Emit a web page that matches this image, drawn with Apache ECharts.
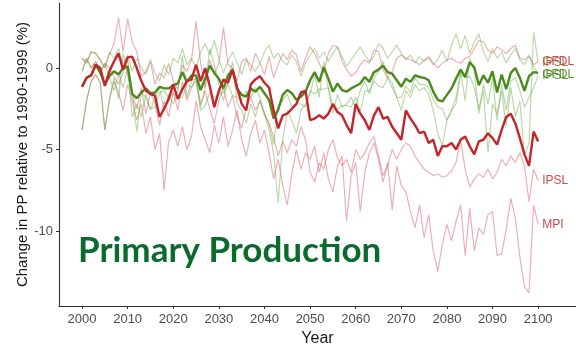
<!DOCTYPE html>
<html>
<head>
<meta charset="utf-8">
<script src="https://cdn.jsdelivr.net/npm/echarts@6/dist/echarts.min.js"></script>
<style>
  html, body { margin: 0; padding: 0; background: #fff; }
  #chart { width: 576px; height: 344px; }
</style>
</head>
<body>
<div id="chart"></div>
<script>
// Annual change in primary production (% vs 1990-1999), 2000-2100.
const START_YEAR = 2000;
const X_TICKS = [2000, 2010, 2020, 2030, 2040, 2050, 2060, 2070, 2080, 2090, 2100];
const Y_TICKS = [-10, -5, 0];

// Multi-model means
const MEAN_HIGH = [
  -1.15, -0.6, -0.45, 0.2, 0.0, -1.1, -0.2, 0.4, 0.9, -0.1,
  0.65, 0.7, 0.0, -0.8, -1.4, -1.6, -1.7, -3.0, -2.5, -1.9,
  -1.0, -1.9, -1.3, -0.8, -0.7, 0.2, -0.8, 0.0, -1.1, -2.4,
  -1.4, -0.7, -0.9, -0.1, -1.2, -2.2, -2.6, -1.0, -0.7, -0.5,
  -0.9, -1.2, -2.6, -3.7, -2.9, -2.8, -2.5, -2.2, -1.5, -1.4,
  -3.2, -3.1, -2.9, -3.1, -2.8, -2.2, -2.7, -2.9, -3.5, -4.0,
  -2.2, -2.8, -3.2, -3.8, -2.9, -2.4, -3.1, -3.0, -3.6, -4.0,
  -4.4, -2.6, -3.1, -3.5, -4.0, -3.9, -4.6, -4.4, -5.4, -4.8,
  -4.8, -4.6, -5.0, -4.4, -4.2, -4.8, -5.3, -4.5, -4.4, -4.0,
  -4.3, -4.7, -3.8, -3.0, -2.8, -3.4, -4.3, -5.3, -6.0, -3.9,
  -4.5
];
const MEAN_LOW = [
  -1.15, -0.6, -0.45, 0.2, -0.3, -1.0, -0.5, -0.2, -0.4, 0.0,
  0.1, -1.6, -1.85, -1.5, -1.25, -1.55, -1.5, -1.15, -1.25, -1.25,
  -1.05, -0.95, -0.25, -0.85, -0.45, -0.45, -1.35, -0.65, 0.15, -0.3,
  -0.65, -1.25, -0.45, -0.1, -1.25, -1.65, -1.75, -1.25, -1.45, -1.15,
  -1.55, -1.95, -3.1, -2.55, -1.65, -1.35, -1.55, -1.95, -1.75, -1.45,
  -0.75, -0.25, -0.85, 0.05, -0.65, -1.45, -0.95, -1.35, -1.45, -1.25,
  -1.1, -0.95, -0.55, -0.85, -0.25, -0.1, 0.15, -0.25, -0.35, -0.75,
  -1.15, -0.65, -0.85, -0.45, -0.55, -0.6, -0.75, -1.45, -1.95, -2.05,
  -1.65, -1.25, -0.65, -0.1, -0.55, 0.35, 0.05, -1.05, -0.45, -0.9,
  -0.2, -1.5, -0.4, -1.3, -0.3, 0.0, -0.6, -1.4, -0.5, -0.25,
  -0.3
];

// Individual models, shared 2000-2005 segment
const HIST_GFDL = [0.6, 0.3, 1.0, 0.9, 0.5, 0.0];
const HIST_IPSL = [-0.2, 0.6, 0.0, 0.4, -0.3, 0.3];
const HIST_MPI  = [-3.8, -2.0, -0.8, -0.4, -0.9, -3.8];

// High-emission runs, 2006-2100
const HIGH_GFDL = [
  0.8, 1.5, 3.1, 1.0, 3.0, 1.6, 1.0, -0.5, -0.2, 0.4,
  -1.0, -0.3, -0.6, 0.3, -0.8, -1.3, 0.2, -0.2, 0.5, 2.85,
  0.3, -1.2, 0.5, -0.4, 0.3, 2.5, 0.2, 0.0, -0.8, 0.4,
  0.6, -0.2, 0.9, 0.3, -0.4, 0.7, -0.6, 0.2, 0.9, 0.5,
  1.1, 0.8, -0.2, 0.6, 1.3, 0.9, 0.3, -0.3, 0.9, 1.4,
  1.3, 0.4, -0.1, -0.5, -0.3, 0.2, 0.5, 0.3, 1.1, 1.0,
  -0.1, -0.6, -0.2, 0.6, 0.8, 0.6, 0.5, 0.4, 0.2, 0.5,
  0.7, 0.3, 0.0, 0.3, 0.5, 0.6, 0.4, 0.3, 0.6, 0.7,
  1.2, 1.7, 1.6, 1.1, 0.9, 1.3, 1.1, 0.9, 1.2, 1.4,
  0.6, 0.5, 0.7, 0.2, 0.4
];
const HIGH_IPSL = [
  0.0, -0.5, -1.0, -0.3, 0.5, -1.5, -2.5, -1.2, -2.8, -1.5,
  -2.2, -3.5, -2.0, -3.0, -1.4, -2.6, -0.8, -2.0, -1.2, -0.6,
  -2.2, -1.4, -2.5, -3.4, -2.0, -1.2, -2.4, -1.7, -3.0, -3.7,
  -2.4, -1.8, -2.6, -2.0, -2.8, -3.4, -4.2, -5.4, -4.5, -5.2,
  -4.4, -4.8, -3.6, -4.4, -6.4, -7.0, -5.8, -6.2, -5.0, -4.4,
  -5.5, -6.0, -5.6, -6.4, -5.0, -5.6, -5.2, -4.6, -4.2, -5.4,
  -6.6, -6.0, -5.0, -5.6, -5.0, -4.6, -4.8, -5.4, -5.8, -6.2,
  -6.4, -6.6, -6.5, -6.7, -6.6, -6.3, -5.8, -4.4, -6.2, -7.3,
  -6.8, -6.5, -6.7, -6.2, -6.8, -6.4, -5.6, -6.0, -5.4, -5.8,
  -5.2, -6.0, -8.2, -6.2, -6.9
];
const HIGH_MPI = [
  -2.0, -0.8, -1.5, -2.6, -1.0, -2.0, -3.2, -2.2, -4.0, -3.0,
  -5.0, -4.0, -7.5, -4.5, -3.8, -4.8, -3.6, -5.0, -4.2, -2.0,
  -3.6, -4.4, -5.2, -3.5, -4.6, -3.0, -4.8, -3.8, -2.6, -4.4,
  -5.4, -4.0, -3.2, -4.6, -3.8, -5.2, -6.8, -5.6, -7.2, -8.4,
  -6.5, -5.0, -6.2, -5.2, -5.6, -4.8, -6.4, -5.2, -6.8, -7.6,
  -6.0, -5.4, -9.4, -6.6, -5.8, -8.8, -6.4, -5.2, -4.6, -5.6,
  -7.0, -5.8, -8.7, -6.0, -7.2, -7.6, -8.8, -9.8, -8.4, -10.4,
  -9.0, -11.2, -12.5, -10.8, -9.6, -10.6, -9.4, -8.4, -11.5, -8.6,
  -11.2, -9.8, -10.2, -9.0, -8.8, -11.5, -11.4, -9.9, -8.0, -9.2,
  -11.6, -13.4, -13.8, -8.4, -9.6
];

// Low-emission runs, 2006-2100
const LOW_GFDL = [
  1.0, 0.6, 1.2, 0.2, 0.8, -0.2, 0.6, 0.0, -0.4, 0.5,
  -0.3, -0.8, 0.2, -0.4, 0.6, 0.3, 1.2, 0.2, 0.6, 0.0,
  1.0, 1.5, 0.8, 1.7, 0.6, -0.3, 0.4, 1.0, 0.3, -0.4,
  0.5, 0.2, -0.2, 0.3, 1.0, 1.4, 0.6, 0.9, 0.4, 0.2,
  0.8, 0.4, -0.5, 0.3, 0.8, 1.2, 0.6, 1.0, 0.4, 0.9,
  1.3, 0.7, 0.1, 0.5, 0.9, 1.3, 0.8, 0.4, 0.7, 1.5,
  1.2, 0.6, 1.0, 1.4, 0.9, 0.5, 0.8, 0.3, 0.7, 0.4,
  0.6, 0.2, 0.5, 1.1, 0.4, 1.4, 2.1, 1.2, 2.0, 0.9,
  1.6, 2.1, 1.0, 0.4, 1.2, 0.6, 1.0, 0.3, 0.8, 1.2,
  0.5, 0.2, 0.8, 0.1, -0.4
];
const LOW_IPSL = [
  -0.6, -1.4, -0.4, -1.2, 0.0, -3.0, -2.2, -3.0, -1.6, -2.6,
  -1.8, -1.2, -2.6, -1.6, -2.2, -1.4, 0.8, -1.8, -0.8, -0.6,
  -2.4, -1.2, 1.2, 0.2, -1.0, -2.0, -0.8, 0.4, -2.2, -2.6,
  -3.4, -2.2, -3.0, -2.0, -2.8, -3.8, -5.2, -8.3, -4.4, -2.6,
  -3.2, -4.0, -2.6, -2.2, -1.6, -0.4, -1.8, 0.4, -1.2, -2.8,
  -1.6, -2.4, -2.2, -1.8, -2.4, -1.4, -0.8, -1.6, -0.6, -0.2,
  0.4, -0.6, -1.2, -1.8, -2.6, -1.4, -1.8, -1.0, -1.4, -1.2,
  -1.6, -2.6, -4.0, -4.8, -3.2, -2.6, -1.8, -0.2, -2.0, 0.6,
  -0.2, -2.8, -1.0, -2.2, -0.6, -3.2, -1.0, -2.6, -0.8, -0.6,
  -1.4, -2.4, -1.8, -1.2, -0.5
];
const LOW_MPI = [
  -1.9, -0.6, -1.9, 0.9, -0.5, -1.5, -3.9, -1.5, -1.8, -2.5,
  -2.4, -1.5, -1.4, -1.8, -1.6, -1.8, -1.8, -1.0, -1.2, -0.8,
  -2.6, -2.3, -1.5, -1.8, -1.6, -1.5, -1.0, -1.7, -1.8, -2.0,
  -1.4, -1.8, -1.2, -1.8, -2.9, -3.4, -4.7, -2.3, -2.0, -1.6,
  -2.4, -2.2, -2.2, -2.4, -1.4, -1.6, -1.3, -1.3, -1.2, -2.4,
  -2.5, -2.3, -2.3, -2.4, -1.8, -2.7, -1.4, -1.4, -0.8, -1.1,
  -1.2, -0.6, -0.9, -1.8, -1.8, -1.1, -1.5, -0.6, -1.0, -1.0,
  -1.2, -1.9, -2.4, -2.5, -3.2, -2.6, -2.2, -0.4, -0.6, -0.5,
  -1.2, -2.5, -1.4, -5.2, -2.2, -2.8, -1.4, -3.6, -1.2, -3.0,
  -2.0, -5.4, -4.6, 2.2, 0.35
];

const toPairs = vals => vals.map((v, i) => [START_YEAR + i, v]);

const THIN_HIGH = 'rgba(212, 80, 90, 0.45)';
const THIN_LOW = 'rgba(105, 170, 65, 0.45)';
const FONT = '"Liberation Sans", Arial, sans-serif';

function thin(name, hist, run, color, label, labelColor) {
  const s = {
    name, type: 'line', data: toPairs(hist.concat(run)),
    showSymbol: false, silent: true,
    lineStyle: { color, width: 1.2 },
    z: 2
  };
  if (label) {
    s.endLabel = {
      show: true, formatter: label, color: labelColor,
      fontSize: 12, fontFamily: FONT, distance: 4
    };
  }
  return s;
}

const series = [
  thin('GFDL high', HIST_GFDL, HIGH_GFDL, THIN_HIGH, 'GFDL', '#c9474d'),
  thin('IPSL high', HIST_IPSL, HIGH_IPSL, THIN_HIGH, 'IPSL', '#c9474d'),
  thin('MPI high',  HIST_MPI,  HIGH_MPI,  THIN_HIGH, 'MPI',  '#c9474d'),
  thin('GFDL low',  HIST_GFDL, LOW_GFDL,  THIN_LOW,  'GFDL', '#4e9a2a'),
  thin('IPSL low',  HIST_IPSL, LOW_IPSL,  THIN_LOW,  'IPSL', '#5c8f2e'),
  thin('MPI low',   HIST_MPI,  LOW_MPI,   THIN_LOW,  'IPSL', '#a0703f'),
  {
    name: 'Mean low', type: 'line', data: toPairs(MEAN_LOW),
    showSymbol: false, silent: true,
    lineStyle: { color: '#4a8b1c', width: 2.4 }, z: 3
  },
  {
    name: 'Mean high', type: 'line', data: toPairs(MEAN_HIGH),
    showSymbol: false, silent: true,
    lineStyle: { color: '#c4252b', width: 2.4 }, z: 4
  }
];

const chart = echarts.init(document.getElementById('chart'), null, { renderer: 'canvas' });
chart.setOption({
  animation: false,
  backgroundColor: '#ffffff',
  title: {
    text: 'Primary Production',
    left: 73, top: 228,
    textStyle: {
      fontFamily: 'Lato', fontWeight: 'bold', fontSize: 35, color: '#0b6b2e'
    }
  },
  grid: {
    left: 59, right: 0, top: 3, bottom: 38,
    containLabel: false, outerBoundsMode: 'none'
  },
  xAxis: {
    type: 'value', min: 1994.95, max: 2108.3,
    name: 'Year', nameLocation: 'middle', nameGap: 23,
    nameTextStyle: { fontFamily: FONT, fontSize: 16, color: '#1a1a1a' },
    splitLine: { show: false },
    axisLine: { onZero: false, lineStyle: { color: '#333', width: 1.1 } },
    axisTick: { customValues: X_TICKS, length: 3, lineStyle: { color: '#333' } },
    axisLabel: {
      customValues: X_TICKS, formatter: v => String(v),
      fontFamily: FONT, fontSize: 13, color: '#4d4d4d', margin: 7
    }
  },
  yAxis: {
    type: 'value', min: -14.6, max: 3.99,
    name: 'Change in PP relative to 1990-1999 (%)',
    nameLocation: 'middle', nameGap: 29, nameRotate: 90, nameMoveOverlap: false,
    nameTextStyle: { fontFamily: FONT, fontSize: 15, color: '#1a1a1a' },
    splitLine: { show: false },
    axisLine: { show: true, onZero: false, lineStyle: { color: '#333', width: 1.1 } },
    axisTick: { show: true, customValues: Y_TICKS, length: 3, lineStyle: { color: '#333' } },
    axisLabel: {
      customValues: Y_TICKS, fontFamily: FONT, fontSize: 13, color: '#4d4d4d', margin: 6
    }
  },
  series
});
</script>
</body>
</html>
